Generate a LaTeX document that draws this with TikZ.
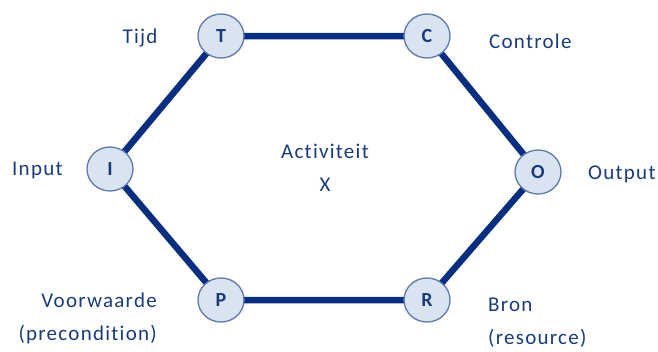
\documentclass[tikz,border=0pt]{standalone}
\usepackage{fontspec}
\setmainfont[Ligatures=NoCommon, LetterSpace=6]{Carlito}
\definecolor{edgeblue}{RGB}{8,46,128}
\definecolor{txtblue}{RGB}{26,60,125}
\definecolor{circfill}{RGB}{218,227,240}
\definecolor{circline}{RGB}{92,122,176}
\tikzset{
  port/.style={ellipse, draw=circline, line width=1.3pt, fill=circfill, minimum width=46pt, minimum height=44pt, inner sep=0pt, font=\fontsize{20}{20}\selectfont\bfseries, text=txtblue},
  lbl/.style={font=\fontsize{21}{33}\selectfont, text=txtblue, inner sep=0pt},
  link/.style={draw=edgeblue, line width=6.5pt}
}
\usetikzlibrary{shapes.geometric}
\begin{document}
\begin{tikzpicture}[x=1pt,y=-1pt]
\useasboundingbox (0,0) rectangle (658,351);
\coordinate (tT) at (221,36);
\coordinate (tC) at (427,36);
\coordinate (tI) at (110,169);
\coordinate (tO) at (538,172);
\coordinate (tP) at (221,300);
\coordinate (tR) at (427,300);
\draw[link] (tT) -- (tC) -- (tO) -- (tR) -- (tP) -- (tI) -- cycle;
\node[port] (T) at (tT) {T};
\node[port] (C) at (tC) {C};
\node[port] (I) at (tI) {I};
\node[port] (O) at (tO) {O};
\node[port] (P) at (tP) {P};
\node[port] (R) at (tR) {R};
\node[lbl] (lT) at (140,38) {Tijd};
\node[lbl, anchor=west] (lC) at (489,41) {Controle};
\node[lbl, anchor=west] (lI) at (12,170) {Input};
\node[lbl, anchor=west] (lO) at (588,174) {Output};
\node[lbl, align=right, anchor=east] (lP) at (157,318) {Voorwaarde\\(precondition)};
\node[lbl, align=left, anchor=west] (lR) at (488,323) {Bron\\(resource)};
\node[lbl, align=center] (lX) at (325,168) {Activiteit\\X};
\end{tikzpicture}
\end{document}
